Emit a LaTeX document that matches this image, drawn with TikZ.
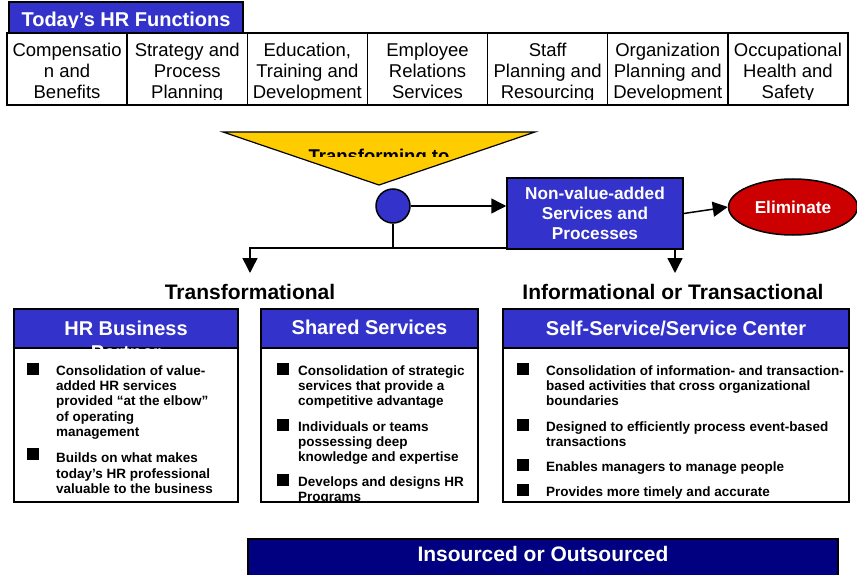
\documentclass[tikz,border=0pt]{standalone}
\usepackage{fontspec}
\setmainfont{Liberation Sans}
\usetikzlibrary{arrows.meta,shapes.geometric}

\definecolor{hrblue}{RGB}{51,51,204}
\definecolor{hryellow}{RGB}{255,204,0}
\definecolor{hrred}{RGB}{204,0,0}
\definecolor{hrnavy}{RGB}{0,0,128}

% multi-line nodes sit on the baseline of their last line
\tikzset{
  funcbox/.style={draw,line width=1.5pt,minimum width=120.14pt,minimum height=72pt,inner sep=0pt},
  functext/.style={align=center,inner sep=0pt,anchor=base,font=\fontsize{18.5}{21}\selectfont},
  headbox/.style={draw,line width=1.5pt,fill=hrblue,inner sep=0pt},
  headtext/.style={text=white,align=center,inner sep=0pt,anchor=base,font=\bfseries\fontsize{20}{24}\selectfont},
  bodybox/.style={draw,line width=1.2pt,fill=white,inner sep=0pt},
  itemtext/.style={align=left,inner sep=0pt,anchor=base west,font=\bfseries\fontsize{13.5}{15.4}\selectfont},
  bullet/.style={fill=black,minimum size=12pt,inner sep=0pt},
  link/.style={line width=1.5pt},
  arr/.style={line width=1.5pt,-{Triangle[length=15pt,width=15pt]}},
  coltitle/.style={anchor=base,inner sep=0pt,font=\bfseries\fontsize{21}{24}\selectfont},
}

\begin{document}
\begin{tikzpicture}[x=1pt,y=-1pt]
\useasboundingbox (0,0) rectangle (857,575);

% today's functions
\node[headbox,minimum width=234pt,minimum height=31pt]
(title)
at (126,17.5)
{};
\begin{scope}
\clip (9,2) rectangle (243,27.5);
\node[headtext]
(titletext)
at (126,26.5)
{Today’s HR Functions};
\end{scope}

\node[funcbox] (f1) at (67.07,69) {};
\node[funcbox] (f2) at (187.21,69) {};
\node[funcbox] (f3) at (307.35,69) {};
\node[funcbox] (f4) at (427.49,69) {};
\node[funcbox] (f5) at (547.63,69) {};
\node[funcbox] (f6) at (667.77,69) {};
\node[funcbox] (f7) at (787.91,69) {};

\begin{scope}
\clip (7,33) rectangle (848,99.5);
\node[functext] (t1) at (67.07,99) {Compensatio\\n and\\Benefits};
\node[functext] (t2) at (187.21,99) {Strategy and\\Process\\Planning};
\node[functext] (t3) at (307.35,99) {Education,\\Training and\\Development};
\node[functext] (t4) at (427.49,99) {Employee\\Relations\\Services};
\node[functext] (t5) at (547.63,99) {Staff\\Planning and\\Resourcing};
\node[functext] (t6) at (667.77,99) {Organization\\Planning and\\Development};
\node[functext] (t7) at (787.91,99) {Occupational\\Health and\\Safety};
\end{scope}

% transforming
\coordinate (triL) at (223,132);
\coordinate (triR) at (535,132);
\coordinate (triB) at (379,185);
\draw[fill=hryellow,line width=1.2pt] (triL) -- (triR) -- (triB) -- cycle;
\begin{scope}
\clip (223,132) rectangle (535,156.7);
\node[anchor=base,inner sep=0pt,font=\bfseries\fontsize{18.5}{22}\selectfont]
(transform)
at (379,162.5)
{Transforming to};
\end{scope}

\node[circle,draw,fill=hrblue,line width=1.5pt,minimum size=34pt,inner sep=0pt]
(hub)
at (393,206)
{};

\coordinate (busL) at (250,248);
\coordinate (busR) at (675,248);
\coordinate (downL) at (250,273);
\coordinate (downR) at (675,273);

\draw[link] (hub) -- (hub |- busL);
\draw[arr] (busR) -- (busL) -- (downL);
\draw[arr] (busR) -- (downR);

\node[draw,fill=hrblue,line width=1.5pt,minimum width=176pt,minimum height=71pt,
  text=white,align=center,font=\bfseries\fontsize{17.2}{20}\selectfont]
(nva)
at (595,213.5)
{Non-value-added\\Services and\\Processes};

\node[ellipse,draw,fill=hrred,line width=1.5pt,minimum width=129pt,minimum height=56pt,
  inner sep=0pt,text=white,font=\bfseries\fontsize{17.2}{20}\selectfont]
(elim)
at (793,207)
{Eliminate};

\draw[arr] (hub) -- (nva.west |- hub);
\draw[arr] (nva.east) -- (elim.west);

% the two streams
\node[coltitle] (transf) at (250,299) {Transformational};
\node[coltitle] (inform) at (673,299) {Informational or Transactional};

% HR business partner
\node[headbox,minimum width=224pt,minimum height=39pt] (hrhead) at (126,328.5) {};
\node[bodybox,minimum width=224pt,minimum height=154pt] (hrbody) at (126,425) {};
\begin{scope}
\clip (14,309) rectangle (238,348);
\node[headtext] (hrtitle) at (126,359) {HR Business\\Partner};
\end{scope}
\begin{scope}
\clip (14,348) rectangle (238,501);
\node[bullet] (hrb1) at (32.5,368.5) {};
\node[itemtext] (hri1) at (56,436.6) {Consolidation of value-\\added HR services\\provided “at the elbow”\\of operating\\management};
\node[bullet] (hrb2) at (32.5,454) {};
\node[itemtext] (hri2) at (56,493.4) {Builds on what makes\\today’s HR professional\\valuable to the business};
\end{scope}

% shared services
\node[headbox,minimum width=217pt,minimum height=39pt] (sshead) at (369.5,328.5) {};
\node[bodybox,minimum width=217pt,minimum height=154pt] (ssbody) at (369.5,425) {};
\node[headtext] (sstitle) at (369.5,334.5) {Shared Services};
\begin{scope}
\clip (261,348) rectangle (478,501);
\node[bullet] (ssb1) at (282.5,368.5) {};
\node[itemtext] (ssi1) at (298,405.8) {Consolidation of strategic\\services that provide a\\competitive advantage};
\node[bullet] (ssb2) at (282.5,424.5) {};
\node[itemtext] (ssi2) at (298,461.8) {Individuals or teams\\possessing deep\\knowledge and expertise};
\node[bullet] (ssb3) at (282.5,479.5) {};
\node[itemtext] (ssi3) at (298,501.4) {Develops and designs HR\\Programs};
\end{scope}

% self-service / service center
\node[headbox,minimum width=346pt,minimum height=39pt] (schead) at (676,328.5) {};
\node[bodybox,minimum width=346pt,minimum height=154pt] (scbody) at (676,425) {};
\node[headtext] (sctitle) at (676,335) {Self-Service/Service Center};
\begin{scope}
\clip (503,348) rectangle (849,501);
\node[bullet] (scb1) at (523,368.5) {};
\node[itemtext] (sci1) at (546,405.8) {Consolidation of information- and transaction-\\based activities that cross organizational\\boundaries};
\node[bullet] (scb2) at (523,424.5) {};
\node[itemtext] (sci2) at (546,446.4) {Designed to efficiently process event-based\\transactions};
\node[bullet] (scb3) at (523,464.5) {};
\node[itemtext] (sci3) at (546,471) {Enables managers to manage people};
\node[bullet] (scb4) at (523,489.5) {};
\node[itemtext] (sci4) at (546,496) {Provides more timely and accurate};
\end{scope}

% sourcing bar
\node[draw,fill=hrnavy,line width=1.5pt,minimum width=590pt,minimum height=37pt,inner sep=0pt]
(sourcing)
at (543,557.5)
{};
\node[anchor=base,inner sep=0pt,text=white,font=\bfseries\fontsize{21}{24}\selectfont]
(sourcingtext)
at (543,561)
{Insourced or Outsourced};

\end{tikzpicture}
\end{document}
